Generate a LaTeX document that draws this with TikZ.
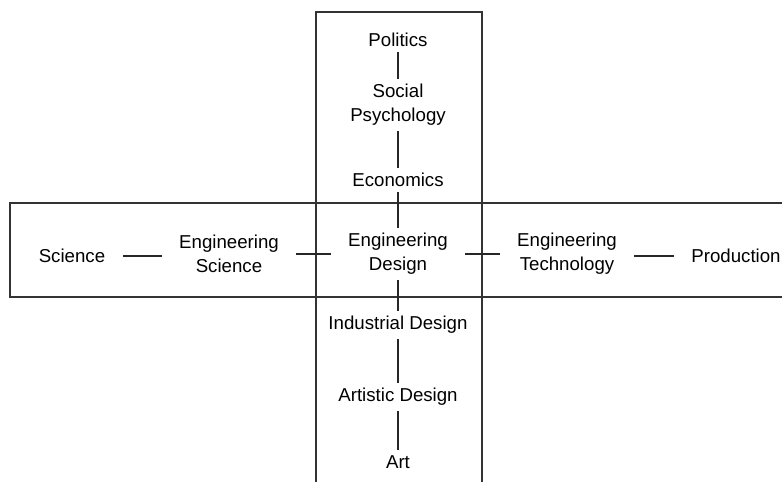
\documentclass[tikz,border=0pt]{standalone}
\usepackage{fontspec}
\setmainfont{Liberation Sans}
\usepackage{xcolor}
\usepackage{tikz}

\begin{document}
\begin{tikzpicture}[x=0.75pt, y=0.75pt,
        field/.style={align=center, inner xsep=13pt, inner ysep=4pt, font=\fontsize{14}{18}\selectfont},
        link/.style={line width=1.3pt, black!85}]
            \useasboundingbox (0,0) rectangle (782,482);

            % the two bands
            \draw[line width=0.8pt, black!80] (316,-10) rectangle (482,470);
            \draw[line width=0.8pt, black!80] (10,185) rectangle (800,279);

            % vertical axis
            \node[field] (politics) at (398,442) {Politics};
            \node[field] (social) at (398,377) {Social\\Psychology};
            \node[field] (economics) at (398,302) {Economics};
            \node[field] (design) at (398,228) {Engineering\\Design};
            \node[field] (industrial) at (398,157) {Industrial Design};
            \node[field] (artistic) at (398,85) {Artistic Design};
            \node[field] (art) at (398,20) {Art};

            % horizontal axis
            \node[field] (science) at (72,226) {Science};
            \node[field] (engsci) at (229,228) {Engineering\\Science};
            \node[field] (engtech) at (567,228) {Engineering\\Technology};
            \node[field] (production) at (736,226) {Production};

            \draw[link] (politics) -- (social);
            \draw[link] (social) -- (economics);
            \draw[link] (economics) -- (design);
            \draw[link] (design) -- (industrial);
            \draw[link] (industrial) -- (artistic);
            \draw[link] (artistic) -- (art);

            \draw[link] (science.east) -- (engsci.west |- science.east);
            \draw[link] (engsci.east |- design.west) -- (design.west);
            \draw[link] (design.east) -- (engtech.west);
            \draw[link] (engtech.east |- production.west) -- (production.west);
        \end{tikzpicture}
\end{document}
